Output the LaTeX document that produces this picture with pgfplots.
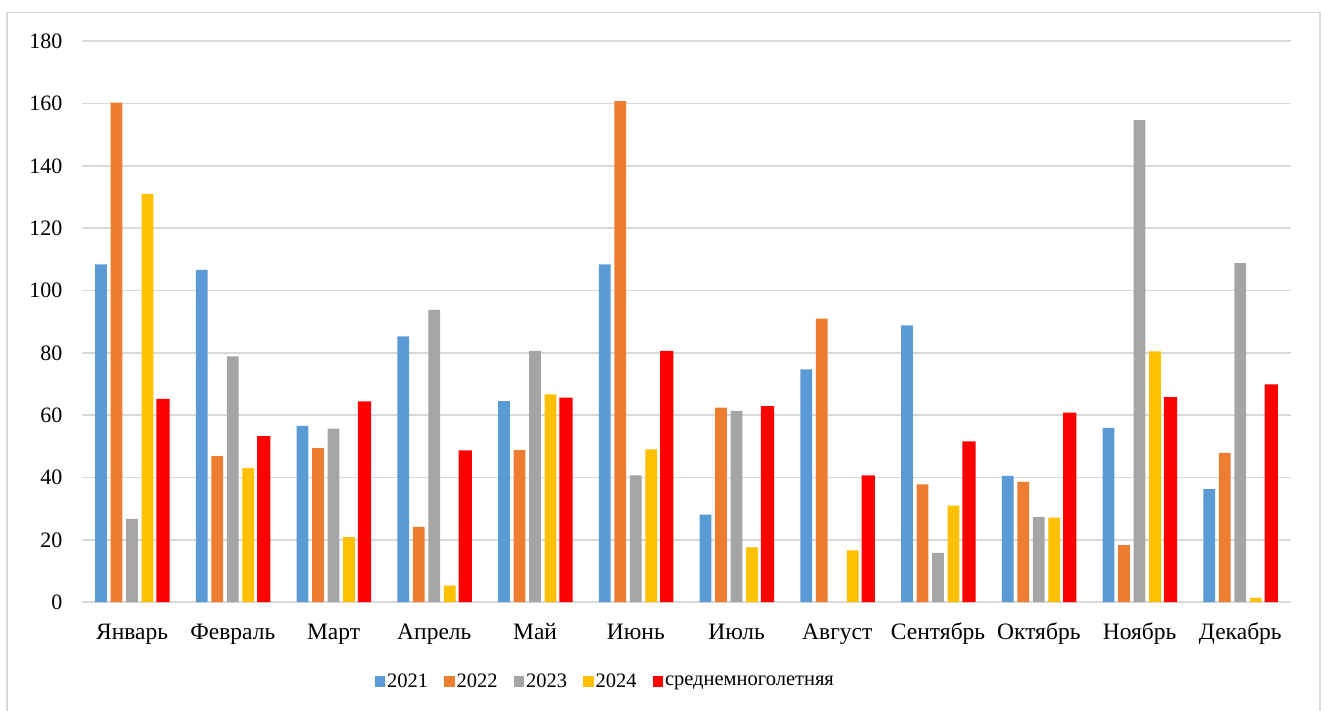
\documentclass[border=0pt]{standalone}
\usepackage{pgfplots}
\pgfplotsset{compat=1.18}
\usepackage{fontspec}
\setmainfont{Liberation Serif}
\definecolor{c21}{HTML}{5B9BD5}
\definecolor{c22}{HTML}{ED7D31}
\definecolor{c23}{HTML}{A5A5A5}
\definecolor{c24}{HTML}{FFC000}
\definecolor{cavg}{HTML}{FF0000}
\definecolor{gridc}{HTML}{D9D9D9}
\begin{document}
\begin{tikzpicture}
\useasboundingbox (0pt,0pt) rectangle (1326pt,711pt);
\fill[white] (0pt,0pt) rectangle (1326pt,711pt);
\draw[gridc, line width=1.5pt] (7pt,-10pt) -- (7pt,698.3pt) -- (1320pt,698.3pt) -- (1320pt,-10pt);
\begin{axis}[
  at={(81.7pt,108.8pt)}, anchor=south west,
  scale only axis, width=1209pt, height=561pt,
  ymin=0, ymax=180, ytick={0,20,...,180},
  xmin=-0.5, xmax=11.5, xtick={0,...,11},
  xticklabels={Январь,Февраль,Март,Апрель,Май,Июнь,Июль,Август,Сентябрь,Октябрь,Ноябрь,Декабрь},
  axis line style={draw=none},
  major tick length=0pt,
  ymajorgrids, major grid style={draw=gridc, line width=1.5pt},
  /pgf/number format/assume math mode=true,
  yticklabel style={font=\fontsize{22}{26}\selectfont, anchor=east, inner sep=0pt, xshift=-19pt},
  xticklabel style={font=\fontsize{23.5}{27}\selectfont, anchor=base, inner sep=0pt, yshift=-37pt},
  ybar, bar width=11.7pt,
  legend columns=5,
  legend style={at={(0.433,-0.142)}, anchor=center, draw=none, fill=none,
    font=\fontsize{20.5}{24}\selectfont,
    nodes={inner sep=2pt},
    /tikz/every even column/.append style={column sep=14pt}},
  legend image code/.code={\fill[#1] (0pt,-5pt) rectangle (10.5pt,5.5pt);},
]
\addplot[fill=c21, draw=none, bar shift=-31pt] coordinates {(0,108.4) (1,106.6) (2,56.6) (3,85.3) (4,64.5) (5,108.4) (6,28.1) (7,74.7) (8,88.8) (9,40.5) (10,55.9) (11,36.3)};
\addlegendentry{2021}
\addplot[fill=c22, draw=none, bar shift=-15.5pt] coordinates {(0,160.3) (1,46.9) (2,49.4) (3,24.2) (4,48.8) (5,160.8) (6,62.4) (7,91.0) (8,37.8) (9,38.6) (10,18.3) (11,47.9)};
\addlegendentry{2022}
\addplot[fill=c23, draw=none, bar shift=0pt] coordinates {(0,26.7) (1,78.9) (2,55.7) (3,93.8) (4,80.6) (5,40.7) (6,61.4) (8,15.8) (9,27.3) (10,154.7) (11,108.8)};
\addlegendentry{2023}
\addplot[fill=c24, draw=none, bar shift=15.5pt] coordinates {(0,131.0) (1,43.0) (2,20.9) (3,5.3) (4,66.7) (5,49.0) (6,17.6) (7,16.6) (8,31.0) (9,27.1) (10,80.5) (11,1.4)};
\addlegendentry{2024}
\addplot[fill=cavg, draw=none, bar shift=31pt, bar width=13.2pt] coordinates {(0,65.2) (1,53.3) (2,64.4) (3,48.7) (4,65.6) (5,80.6) (6,62.9) (7,40.7) (8,51.6) (9,60.8) (10,65.8) (11,69.9)};
\addlegendentry{среднемноголетняя}
\end{axis}
\end{tikzpicture}
\end{document}
